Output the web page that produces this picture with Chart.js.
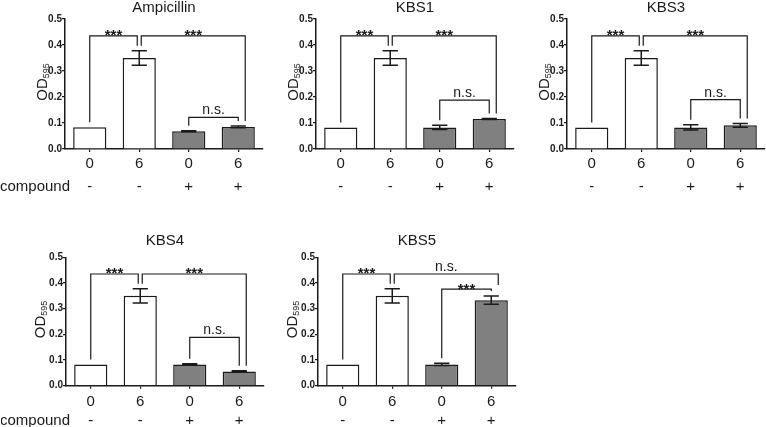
<!DOCTYPE html>
<html>
<head>
<meta charset="utf-8">
<script src="https://cdn.jsdelivr.net/npm/chart.js@4"></script>
<style>
  html, body { margin: 0; padding: 0; background: #fff; overflow: hidden; }
  body { width: 766px; height: 427px; position: relative; }
  canvas { position: absolute; }
</style>
</head>
<body>
<canvas id="amp"></canvas>
<canvas id="kbs1"></canvas>
<canvas id="kbs3"></canvas>
<canvas id="kbs4"></canvas>
<canvas id="kbs5"></canvas>
<script>
// x categories: hours and compound added or not
const doses = ['0', '6', '0', '6'];
const compound = ['-', '-', '+', '+'];
const yTicks = [0, 0.1, 0.2, 0.3, 0.4, 0.5];

// OD595 means and error (SD) per group
const ampicillinMean = [0.084, 0.35, 0.068, 0.085];
const ampicillinErr  = [0, 0.028, 0.002, 0.003];
const kbs1Mean = [0.083, 0.35, 0.083, 0.115];
const kbs1Err  = [0, 0.028, 0.008, 0.002];
const kbs3Mean = [0.083, 0.35, 0.083, 0.091];
const kbs3Err  = [0, 0.028, 0.01, 0.007];
const kbs4Mean = [0.083, 0.35, 0.083, 0.055];
const kbs4Err  = [0, 0.028, 0.002, 0.003];
const kbs5Mean = [0.083, 0.35, 0.083, 0.333];
const kbs5Err  = [0, 0.028, 0.004, 0.016];

// comparisons: [from, to, label, bracket height, optional leg end]
const ampicillinSig = [[0, 1, '***', 0.435], [1, 3, '***', 0.435], [2, 3, 'n.s.', 0.122]];
const kbs1Sig = [[0, 1, '***', 0.435], [1, 3, '***', 0.435], [2, 3, 'n.s.', 0.188]];
const kbs3Sig = [[0, 1, '***', 0.435], [1, 3, '***', 0.435], [2, 3, 'n.s.', 0.19]];
const kbs4Sig = [[0, 1, '***', 0.435], [1, 3, '***', 0.435], [2, 3, 'n.s.', 0.188]];
const kbs5Sig = [[0, 1, '***', 0.435], [1, 3, 'n.s.', 0.435, 0.392], [2, 3, '***', 0.376]];

const ink = '#1a1a1a';
const fills = ['#ffffff', '#ffffff', '#808080', '#808080'];
const family = '"Liberation Sans", Arial, Helvetica, sans-serif';

const rows = [
  { top: 0,   height: 200, chartTop: 19,   chartBottom: 149,   pad: 0,   line: 23,   titleGap: 7,  yGap: 18 },
  { top: 220, height: 207, chartTop: 37.3, chartBottom: 165.7, pad: 4.5, line: 18.3, titleGap: 12, yGap: 21 }
];

const panels = [
  { id: 'amp',  title: 'Ampicillin', mean: ampicillinMean, err: ampicillinErr, sig: ampicillinSig, row: 0, left: 0,   compound: true },
  { id: 'kbs1', title: 'KBS1', mean: kbs1Mean, err: kbs1Err, sig: kbs1Sig, row: 0, left: 251 },
  { id: 'kbs3', title: 'KBS3', mean: kbs3Mean, err: kbs3Err, sig: kbs3Sig, row: 0, left: 502 },
  { id: 'kbs4', title: 'KBS4', mean: kbs4Mean, err: kbs4Err, sig: kbs4Sig, row: 1, left: 1,   compound: true },
  { id: 'kbs5', title: 'KBS5', mean: kbs5Mean, err: kbs5Err, sig: kbs5Sig, row: 1, left: 253 }
];

const sigPlugin = {
  id: 'sig',
  afterDatasetsDraw(chart, args, o) {
    const ctx = chart.ctx, y = chart.scales.y, area = chart.chartArea;
    const bars = chart.getDatasetMeta(0).data;
    const means = chart.data.datasets[0].data;
    const errs = o.err;
    ctx.save();
    ctx.strokeStyle = ink;
    ctx.fillStyle = ink;

    // error bars
    ctx.lineWidth = 1.5;
    bars.forEach((b, i) => {
      if (!errs[i]) return;
      const top = y.getPixelForValue(means[i] + errs[i]);
      const bot = y.getPixelForValue(means[i] - errs[i]);
      const half = b.width * 0.23;
      ctx.beginPath();
      ctx.moveTo(b.x, top); ctx.lineTo(b.x, bot);
      ctx.moveTo(b.x - half, top); ctx.lineTo(b.x + half, top);
      ctx.moveTo(b.x - half, bot); ctx.lineTo(b.x + half, bot);
      ctx.stroke();
    });

    // significance brackets
    o.sig.forEach(s => {
      const [a, b, label, h, end] = s;
      let xa = bars[a].x, xb = bars[b].x;
      if (o.sig.some(t => t !== s && t[1] === a)) xa += 2;
      if (o.sig.some(t => t !== s && t[0] === b)) xb -= 2;
      if (o.sig.some(t => t !== s && t[1] === b && t[3] < h)) xb += 7;
      const yl = y.getPixelForValue(h);
      const legA = y.getPixelForValue(means[a] + errs[a]) - 5;
      const legB = end != null ? y.getPixelForValue(end) : y.getPixelForValue(means[b] + errs[b]) - 5;
      ctx.lineWidth = 1.2;
      ctx.beginPath();
      ctx.moveTo(xa, legA); ctx.lineTo(xa, yl); ctx.lineTo(xb, yl); ctx.lineTo(xb, legB);
      ctx.stroke();
      ctx.textAlign = 'center';
      ctx.textBaseline = 'alphabetic';
      if (label === '***') {
        ctx.font = 'bold 15px ' + family;
        ctx.fillText(label, (xa + xb) / 2, yl + 4.5);
      } else {
        ctx.font = '14px ' + family;
        ctx.fillText(label, (xa + xb) / 2, yl - 3);
      }
    });

    // title
    ctx.font = '15px ' + family;
    ctx.textAlign = 'center';
    ctx.fillText(o.title, (area.left + area.right) / 2, area.top - o.row.titleGap);

    // y axis title OD595
    ctx.save();
    ctx.translate(area.left - o.row.yGap, (area.top + area.bottom) / 2 - 2);
    ctx.rotate(-Math.PI / 2);
    ctx.font = '15px ' + family;
    const w1 = ctx.measureText('OD').width;
    ctx.font = '9px ' + family;
    const w2 = ctx.measureText('595').width;
    ctx.textAlign = 'left';
    ctx.font = '15px ' + family;
    ctx.fillText('OD', -(w1 + w2) / 2, 0);
    ctx.font = '9px ' + family;
    ctx.fillText('595', -(w1 + w2) / 2 + w1, 2);
    ctx.restore();

    // row label
    if (o.compound) {
      ctx.font = '15px ' + family;
      ctx.textAlign = 'left';
      ctx.textBaseline = 'middle';
      ctx.fillText('compound', -o.left, area.bottom + 3 + o.row.pad + 1.5 * o.row.line);
    }
    ctx.restore();
  }
};

panels.forEach(p => {
  const r = rows[p.row];
  const canvas = document.getElementById(p.id);
  canvas.width = 265;
  canvas.height = r.height;
  canvas.style.left = p.left + 'px';
  canvas.style.top = r.top + 'px';

  new Chart(canvas, {
    type: 'bar',
    data: {
      labels: doses.map((d, i) => [d, compound[i]]),
      datasets: [{
        data: p.mean,
        backgroundColor: fills,
        borderColor: ink,
        borderWidth: 1.5,
        barPercentage: 0.67,
        categoryPercentage: 1
      }]
    },
    options: {
      responsive: false,
      animation: false,
      devicePixelRatio: 1,
      layout: { padding: { top: r.chartTop, left: 0, right: 2, bottom: 0 } },
      plugins: {
        legend: { display: false },
        tooltip: { enabled: false },
        sig: { err: p.err, sig: p.sig, title: p.title, row: r, compound: p.compound, left: p.left }
      },
      scales: {
        x: {
          grid: { drawOnChartArea: false, offset: false, tickLength: 3, color: ink, lineWidth: 1.2 },
          border: { color: ink, width: 1.5 },
          ticks: {
            color: ink, padding: r.pad, maxRotation: 0, autoSkip: false,
            font: { family: family, size: 15, lineHeight: r.line / 15 }
          },
          afterFit: s => { s.height = r.height - r.chartBottom; }
        },
        y: {
          min: 0, max: 0.5,
          afterBuildTicks: s => { s.ticks = yTicks.map(v => ({ value: v })); },
          grid: { drawOnChartArea: false, tickLength: 3, color: ink, lineWidth: 1.2 },
          border: { color: ink, width: 1.5 },
          ticks: {
            color: ink, padding: 0,
            font: { family: family, size: 10, weight: 'bold' },
            callback: v => v.toFixed(1)
          },
          afterFit: s => { s.width = 65; }
        }
      }
    },
    plugins: [sigPlugin]
  });
});
</script>
</body>
</html>
